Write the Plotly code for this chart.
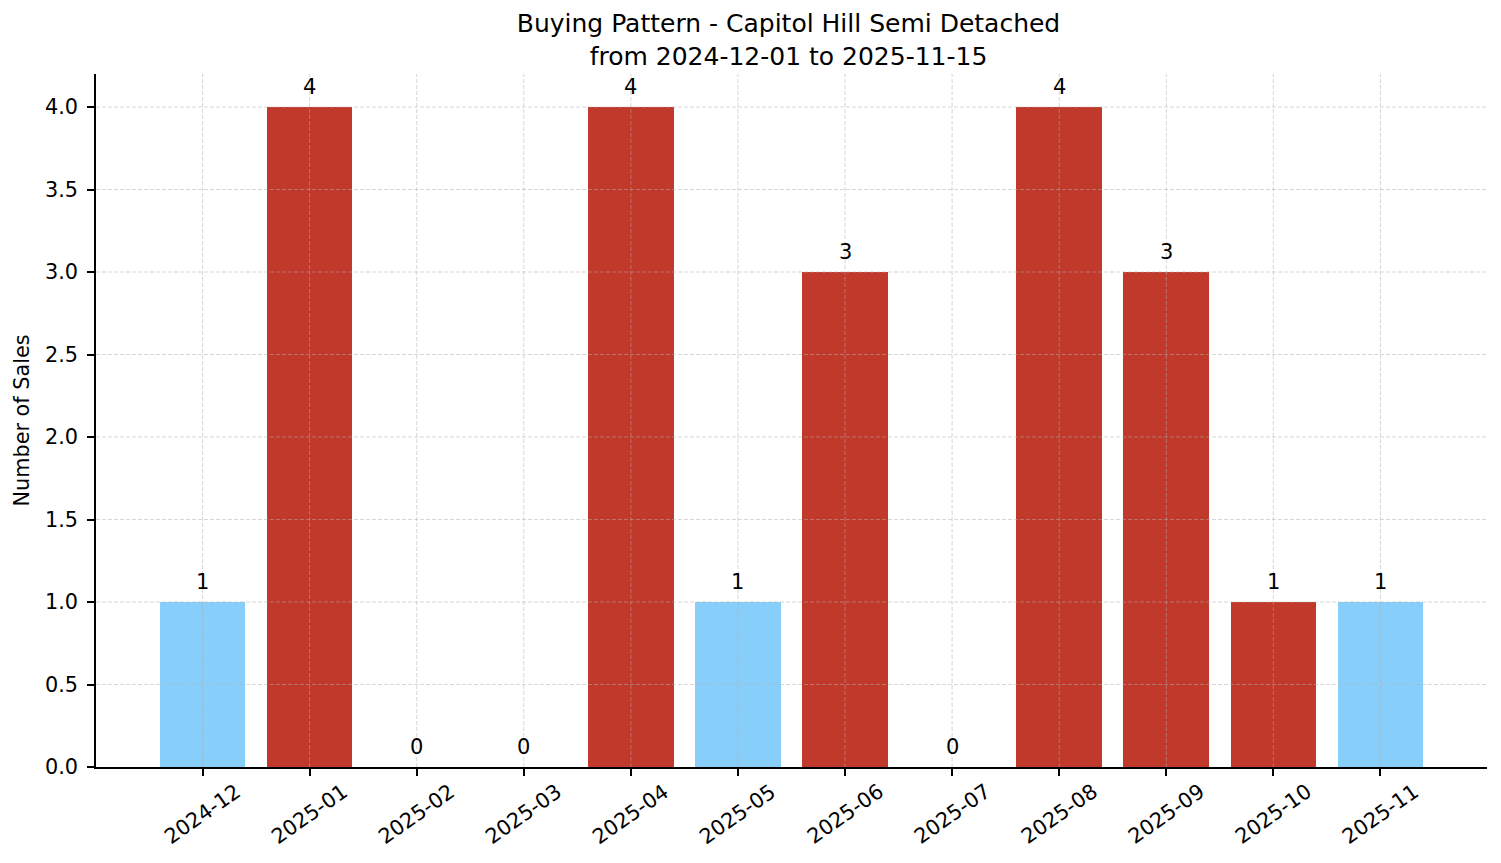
import plotly.graph_objects as go

# Monthly sales counts for the neighbourhood
months = ["2024-12", "2025-01", "2025-02", "2025-03", "2025-04", "2025-05",
          "2025-06", "2025-07", "2025-08", "2025-09", "2025-10", "2025-11"]
sales = [1, 4, 0, 0, 4, 1, 3, 0, 4, 3, 1, 1]
blue_months = ["2024-12", "2025-05", "2025-11"]
y_ticks = [0.0, 0.5, 1.0, 1.5, 2.0, 2.5, 3.0, 3.5, 4.0]

title_text = "Buying Pattern - Capitol Hill Semi Detached<br>from 2024-12-01 to 2025-11-15"

RED = "#C0392B"
BLUE = "#87CEFA"
FONT = "DejaVu Sans"
GRID = "rgba(176,176,176,0.5)"

# page body has an 8px margin, so the figure is a bit smaller than the window
W, H = 1493, 855

bar_colors = [BLUE if m in blue_months else RED for m in months]

fig = go.Figure(go.Bar(
    x=months,
    y=sales,
    width=0.8,
    marker=dict(color=bar_colors, line=dict(width=0)),
    showlegend=False,
    hoverinfo="x+y",
))

annotations = []

# value labels above bars
for m, s in zip(months, sales):
    annotations.append(dict(xref="x", yref="y", x=m, y=s,
                            text=str(s), showarrow=False,
                            yanchor="bottom", yshift=6,
                            font=dict(family=FONT, size=21, color="black")))

# rotated month labels, centred under the ticks like matplotlib
for m in months:
    annotations.append(dict(xref="x", yref="y", x=m, y=0,
                            text=m, showarrow=False, textangle=-35,
                            xanchor="center", yanchor="middle", yshift=-47,
                            font=dict(family=FONT, size=20.8, color="black")))

# grid drawn over the bars (matplotlib puts it above patches)
shapes = []
for yv in y_ticks[1:]:
    shapes.append(dict(type="line", xref="paper", yref="y", x0=0, x1=1, y0=yv, y1=yv,
                       line=dict(color=GRID, width=1, dash="4px,2px"), layer="above"))
for m in months:
    shapes.append(dict(type="line", xref="x", yref="paper", x0=m, x1=m, y0=0, y1=1,
                       line=dict(color=GRID, width=1, dash="4px,2px"), layer="above"))

fig.update_layout(
    title=dict(text=title_text, x=(780.5) / W, xanchor="center",
               yref="container", y=1 - 24 / H, yanchor="top",
               font=dict(family=FONT, size=25, color="black")),
    width=W, height=H,
    margin=dict(l=82, r=14, t=66, b=96),
    paper_bgcolor="white",
    plot_bgcolor="white",
    font=dict(family=FONT, size=20.8, color="black"),
    annotations=annotations,
    shapes=shapes,
    bargap=0,
)

fig.update_xaxes(
    type="category",
    range=[-0.995, len(months) - 0.005],
    showgrid=False,
    showline=True, linecolor="black", linewidth=1.6,
    ticks="outside", ticklen=7, tickwidth=1.6, tickcolor="black",
    showticklabels=False,
    zeroline=False,
)

fig.update_yaxes(
    range=[0, 4.2],
    tickvals=y_ticks,
    tickformat=".1f",
    showgrid=False,
    showline=True, linecolor="black", linewidth=1.6,
    ticks="outside", ticklen=7, tickwidth=1.6, tickcolor="black",
    ticklabelstandoff=5,
    tickfont=dict(family=FONT, size=20.8, color="black"),
    title=dict(text="Number of Sales", standoff=10,
               font=dict(family=FONT, size=20.8, color="black")),
    zeroline=False,
)

fig.write_html("out.html")
